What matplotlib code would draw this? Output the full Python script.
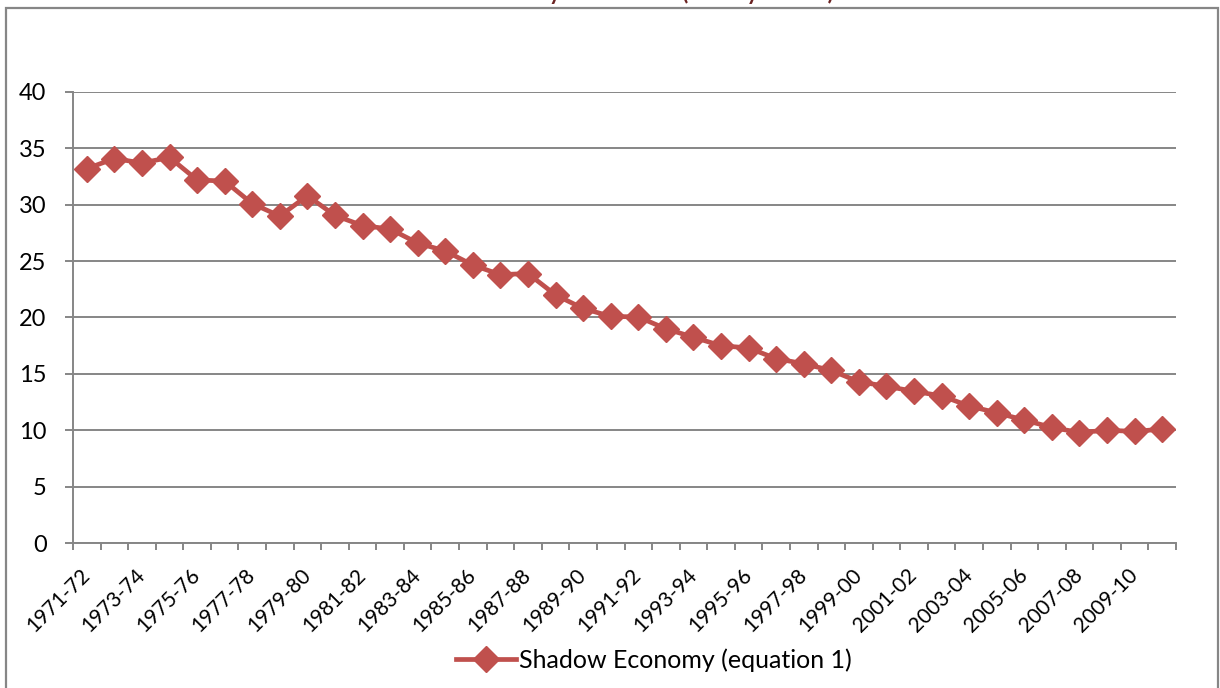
import matplotlib
matplotlib.use("Agg")
import matplotlib.pyplot as plt
from matplotlib.patches import Rectangle
import numpy as np

# ---- data ----
years = [f"{y}-{str(y + 1)[-2:]}" for y in range(1971, 2011)]
shadow_eq1 = [33.2, 34.1, 33.7, 34.2, 32.2, 32.1, 30.1, 29.0, 30.8, 29.05,
              28.15, 27.85, 26.6, 25.9, 24.65, 23.8, 23.9, 22.0, 20.8, 20.1,
              20.05, 19.0, 18.25, 17.5, 17.3, 16.35, 15.9, 15.3, 14.3, 13.9,
              13.45, 13.05, 12.15, 11.55, 10.9, 10.25, 9.8, 10.0, 9.9, 10.1]
series_name = "Shadow Economy (equation 1)"
title = "Shadow Economy of Pakistan (Money Model)"

# ---- style ----
red = "#C0504D"
grey = "#868686"
plt.rcParams["font.family"] = ["Lato", "DejaVu Sans"]
plt.rcParams["font.size"] = 16

fig = plt.figure(figsize=(12.2, 6.88), dpi=100)
ax = fig.add_axes([73 / 1220, 1 - 543 / 688, 1103 / 1220, 451 / 688])

x = np.arange(len(years))
ax.plot(x, shadow_eq1, color=red, lw=3.4, marker="D", ms=13,
        markeredgecolor=red, label=series_name, zorder=3)

ax.set_xlim(-0.5, len(years) - 0.5)
ax.set_ylim(0, 40)
ax.set_yticks(range(0, 41, 5))
ax.grid(axis="y", color=grey, lw=1.4)
ax.set_axisbelow(True)

for s in ["top", "right"]:
    ax.spines[s].set_visible(False)
for s in ["left", "bottom"]:
    ax.spines[s].set_color(grey)
    ax.spines[s].set_linewidth(1.4)

# category boundaries as minor ticks, labels on every second category
ax.set_xticks(np.arange(-0.5, len(years)), minor=True)
ax.set_xticks(x[::2])
ax.set_xticklabels(years[::2], rotation=45, ha="right", va="center",
                   rotation_mode="anchor", fontsize=15)
ax.tick_params(axis="x", which="major", length=0, pad=21)
ax.tick_params(axis="x", which="minor", length=5, width=1.4, color=grey)
ax.tick_params(axis="y", length=6, width=1.4, color=grey, pad=13,
               labelsize=17)

ax.legend(loc="lower center", bbox_to_anchor=(0.536, 0.0),
          bbox_transform=fig.transFigure, frameon=False, borderaxespad=0.25,
          handlelength=2.4, handletextpad=0.1, fontsize=18)

# chart border and title
fig.patches.append(Rectangle((6 / 1220, -0.05), 1212 / 1220, 1.05 - 8 / 688,
                             transform=fig.transFigure, fill=False,
                             edgecolor=grey, lw=1.6))
fig.text(0.315, 1.0, title, ha="left", va="baseline", fontsize=16,
         fontweight="bold", color="#6B2322")

fig.savefig("out.png", dpi=100)
